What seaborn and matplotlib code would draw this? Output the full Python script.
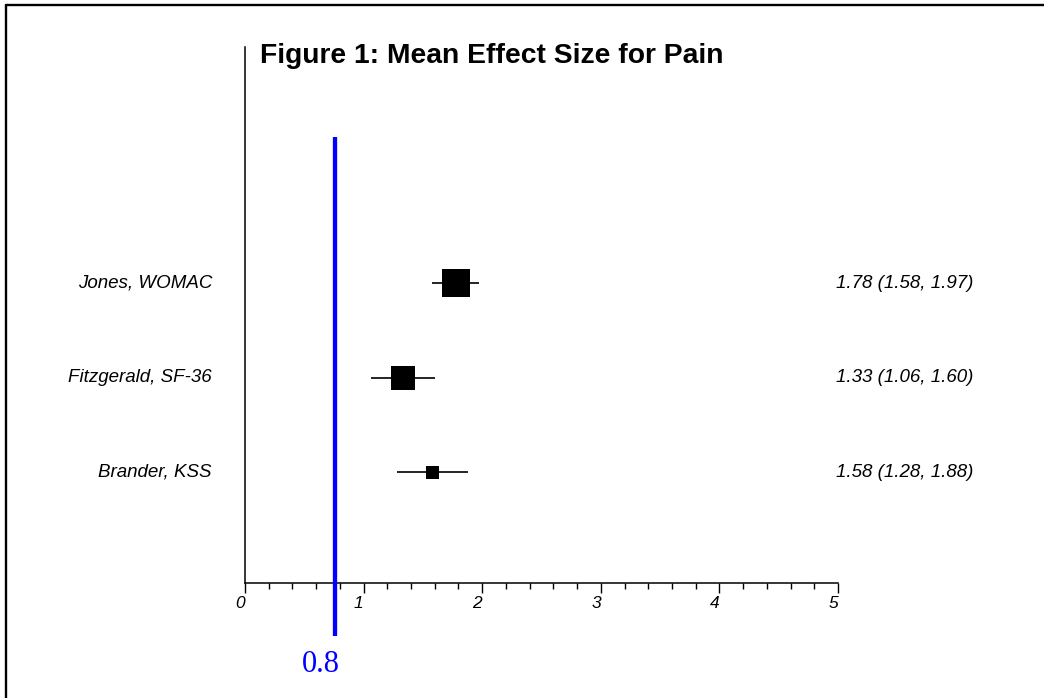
import numpy as np
import pandas as pd
import matplotlib
matplotlib.use("Agg")
import matplotlib.pyplot as plt
import matplotlib.transforms as mtrans
from matplotlib.lines import Line2D
import seaborn as sns

# ---- data ----
studies = ["Jones, WOMAC", "Fitzgerald, SF-36", "Brander, KSS"]
effect = [1.78, 1.33, 1.58]
ci_low = [1.58, 1.06, 1.28]
ci_high = [1.97, 1.60, 1.88]
weights = [50.5, 37.9, 11.6]
ci_text = ["1.78 (1.58, 1.97)", "1.33 (1.06, 1.60)", "1.58 (1.28, 1.88)"]
ref_value = 0.76
ref_label = "0.8"
x_ticks = [0, 1, 2, 3, 4, 5]
title = "Figure 1: Mean Effect Size for Pain"

sns.set_style("white")
plt.rcParams["font.family"] = ["Liberation Sans", "DejaVu Sans"]
plt.rcParams["text.color"] = "black"
plt.rcParams["xtick.color"] = "black"
plt.rcParams["xtick.labelcolor"] = "black"

df = pd.DataFrame({
    "study": studies,
    "effect": effect,
    "lo": ci_low,
    "hi": ci_high,
    "weight": weights,
    "row": list(range(len(studies), 0, -1)),
})

W, H = 1044, 698
fig = plt.figure(figsize=(W / 100, H / 100), dpi=100)
ax = fig.add_axes([245 / W, 1 - 583 / H, (838 - 245) / W, (583 - 47) / H])

# CI lines
ax.hlines(df["row"], df["lo"], df["hi"], color="black", lw=1.2, zorder=2)
# weighted squares
sns.scatterplot(data=df, x="effect", y="row", size="weight",
                sizes=(92, 398), size_norm=(min(weights), max(weights)),
                marker="s", color="black", linewidth=0, legend=False,
                ax=ax, zorder=3)

ax.set_xlim(0, 5)
ax.set_ylim(-0.17, 5.5)

# reference line
ref = ax.axvline(ref_value, ymin=-0.099, ymax=0.832, color="#0000ff", lw=3.1,
                 clip_on=False, zorder=4)
ref.set_solid_capstyle("butt")
ax.text(ref_value - 0.12, -0.152, ref_label, transform=ax.get_xaxis_transform(),
        ha="center", va="center", color="#0000ff", fontsize=22,
        family=["Liberation Serif", "DejaVu Serif"])

# spines
for s in ["top", "right"]:
    ax.spines[s].set_visible(False)
for s in ["left", "bottom"]:
    ax.spines[s].set_linewidth(1.1)
    ax.spines[s].set_color("black")

ax.set_xticks(x_ticks)
ax.set_xticks(np.arange(0, 5.01, 0.2), minor=True)
ax.set_xticklabels([str(t) for t in x_ticks], fontstyle="italic", fontsize=12.5, ha="right")
ax.tick_params(axis="x", which="major", direction="out", length=7.2, width=1.0,
               pad=2.0, color="black", bottom=True)
ax.tick_params(axis="x", which="minor", direction="out", length=4.5, width=1.0,
               color="black", bottom=True)
ax.set_yticks([])
ax.set_xlabel("")
ax.set_ylabel("")

lab_tr = mtrans.blended_transform_factory(fig.transFigure, ax.transData)
for r, name, txt in zip(df["row"], studies, ci_text):
    ax.text(212 / W, r, name, transform=lab_tr,
            ha="right", va="center", fontsize=13.5, fontstyle="italic")
    ax.text(973 / W, r, txt, transform=lab_tr,
            ha="right", va="center", fontsize=13.5, fontstyle="italic")

fig.text(260 / W, 1 - 56 / H, title, ha="left", va="center",
         fontsize=20.3, fontweight="bold")

# outer frame (top and left)
fig.add_artist(Line2D([5.8 / W, 1], [1 - 4.5 / H, 1 - 4.5 / H], color="black",
                      lw=1.7, transform=fig.transFigure))
fig.add_artist(Line2D([5.8 / W, 5.8 / W], [0, 1 - 4.5 / H], color="black",
                      lw=1.7, transform=fig.transFigure))

fig.savefig("out.png", dpi=100)
